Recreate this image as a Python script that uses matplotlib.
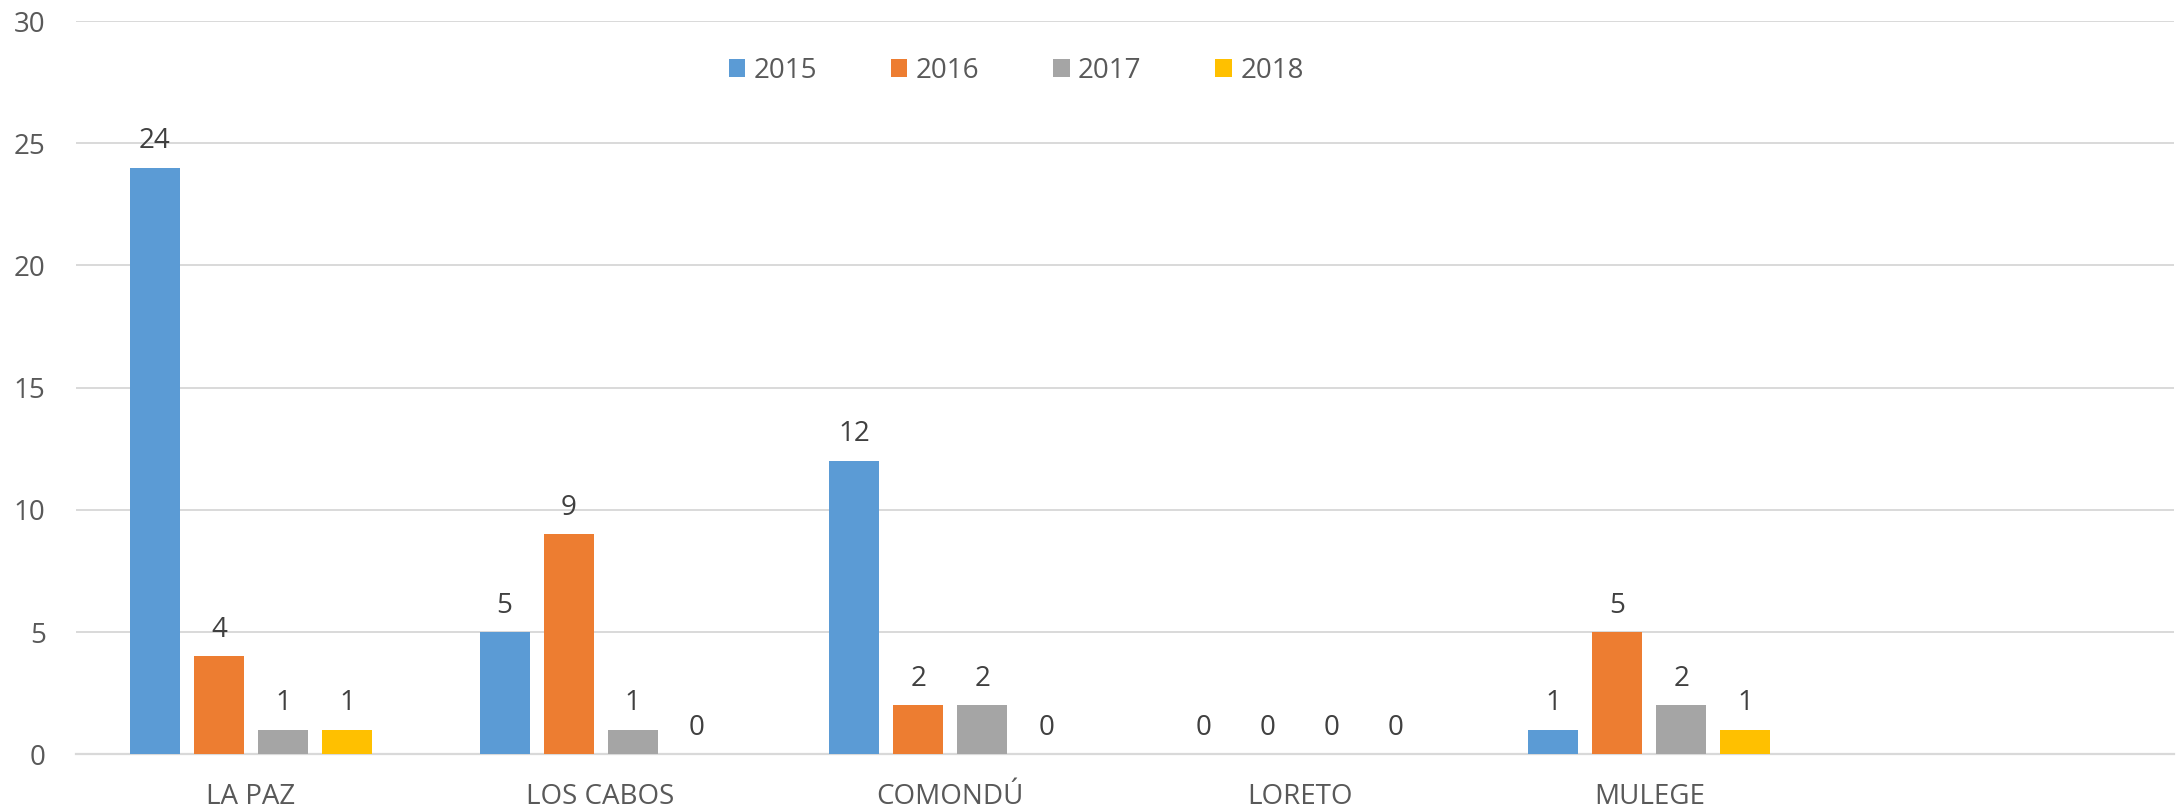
import numpy as np
import matplotlib.pyplot as plt

plt.rcParams['font.family'] = ['Open Sans', 'DejaVu Sans']

categories = ['LA PAZ', 'LOS CABOS', 'COMONDÚ', 'LORETO', 'MULEGE', '']
years = ['2015', '2016', '2017', '2018']
v2015 = [24, 5, 12, 0, 1]
v2016 = [4, 9, 2, 0, 5]
v2017 = [1, 1, 2, 0, 2]
v2018 = [1, 0, 0, 0, 1]
series = [v2015, v2016, v2017, v2018]
colors = ['#5B9BD5', '#ED7D31', '#A5A5A5', '#FFC000']

fig = plt.figure(figsize=(21.76, 8.11), dpi=100)
ax = fig.add_axes([0.035, 0.070, 0.964, 0.904])

x = np.arange(len(v2015))
width = 0.143
pitch = 0.183
for i, (vals, col, yr) in enumerate(zip(series, colors, years)):
    b = ax.bar(x + (i - 1.5) * pitch, vals, width, color=col, label=yr, zorder=3)
    ax.bar_label(b, padding=9, fontsize=20, color='#404040')

ax.set_xlim(-0.5, len(categories) - 0.5)
ax.set_ylim(0, 30)
ax.set_yticks(range(0, 31, 5))
ax.set_xticks(range(len(categories)))
ax.set_xticklabels(categories)
ax.yaxis.grid(True, color='#d9d9d9', linewidth=1.4, zorder=0)
ax.set_axisbelow(True)
for s in ['top', 'right', 'left']:
    ax.spines[s].set_visible(False)
ax.spines['bottom'].set_color('#d9d9d9')
ax.spines['bottom'].set_linewidth(1.6)
ax.tick_params(axis='both', length=0, labelsize=20, labelcolor='#595959')
ax.tick_params(axis='y', pad=22)
ax.tick_params(axis='x', pad=21)

ax.legend(loc='center', bbox_to_anchor=(0.467, 0.913), bbox_transform=fig.transFigure,
          ncol=4, frameon=False, fontsize=20, labelcolor='#595959',
          handlelength=0.6, handleheight=0.6, handletextpad=0.3, columnspacing=2.65)

fig.savefig('out.png', dpi=100)
